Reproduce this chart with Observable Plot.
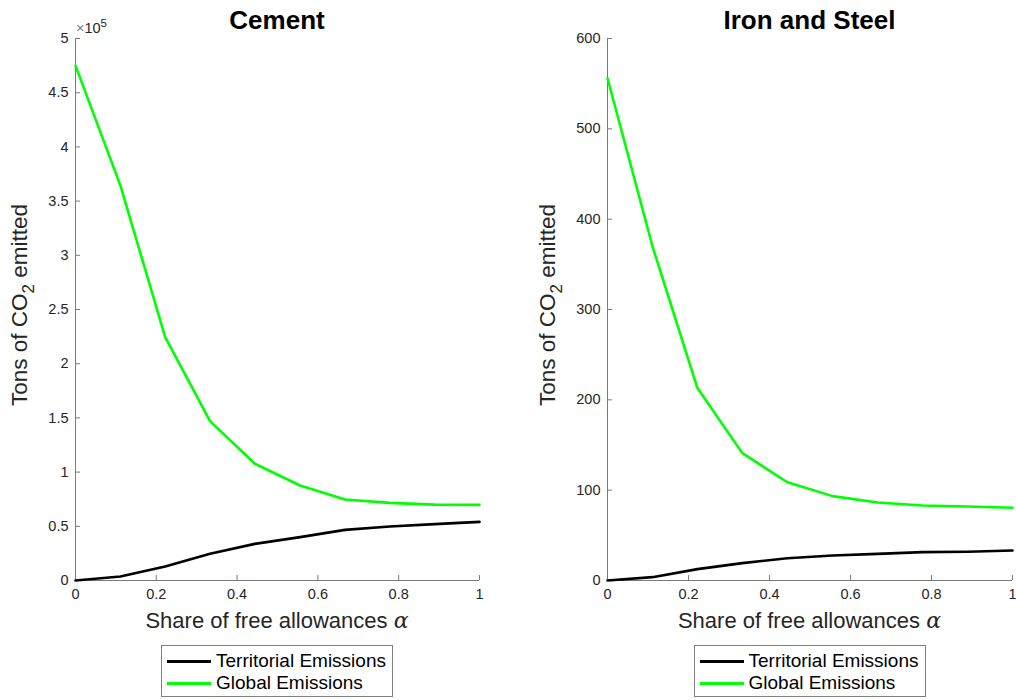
<!DOCTYPE html>
<html><head><meta charset="utf-8">
<script src="https://cdn.jsdelivr.net/npm/d3@7"></script>
<script src="https://cdn.jsdelivr.net/npm/@observablehq/plot@0.6"></script>
<style>
body{margin:0;background:#fff;font-family:"Liberation Sans",Arial,Helvetica,sans-serif;}
#wrap{position:relative;width:1016px;height:700px;overflow:hidden;}
.panel{position:absolute;top:0;}
.panel svg{overflow:visible;}
.legend{position:absolute;top:645px;height:52px;border:1px solid #7f7f7f;background:#fff;box-sizing:border-box;font-size:19px;color:#000;padding-top:4px;}
.legend .row{display:flex;align-items:center;height:22px;}
.legend .sw{width:44px;height:3px;margin-left:5px;margin-right:5px;flex:none;}
</style>
</head><body>
<div id="wrap"></div>
<script>
const alpha = [0, 0.111, 0.222, 0.333, 0.444, 0.556, 0.667, 0.778, 0.889, 1];
const cementTerritorial = [0, 3700, 13000, 24600, 33800, 40000, 46700, 49800, 52000, 54100];
const cementGlobal = [475000, 364500, 224500, 147000, 107700, 87600, 74700, 71600, 70000, 69800];
const steelTerritorial = [0, 3.7, 12.6, 19.2, 24.7, 27.7, 29.5, 31.4, 31.8, 33.2];
const steelGlobal = [556, 370, 213, 141, 108.8, 93.4, 86.3, 83, 82, 80.5];
const seriesNames = ["Territorial Emissions", "Global Emissions"];
const seriesColors = ["#000000", "#00ff00"];
const xTicks = [0, 0.2, 0.4, 0.6, 0.8, 1];
const cementYTicks = [0, 50000, 100000, 150000, 200000, 250000, 300000, 350000, 400000, 450000, 500000];
const steelYTicks = [0, 100, 200, 300, 400, 500, 600];
const titles = ["Cement", "Iron and Steel"];

const FONT = '"Liberation Sans",Arial,Helvetica,sans-serif';
const wrap = document.getElementById("wrap");

function makePanel({left, width, marginLeft, marginRight, title, yDomain, yTicks, yFormat, terr, glob, exponent, yLabelX}) {
  const rows = [];
  alpha.forEach((a, i) => rows.push({a, v: terr[i], s: seriesNames[0]}));
  alpha.forEach((a, i) => rows.push({a, v: glob[i], s: seriesNames[1]}));
  const svg = Plot.plot({
    width, height: 640,
    marginTop: 38, marginBottom: 60, marginLeft, marginRight,
    style: {fontFamily: FONT, fontSize: "14.5px", color: "#262626", background: "transparent", overflow: "visible"},
    x: {domain: [0, 1]},
    y: {domain: yDomain},
    color: {domain: seriesNames, range: seriesColors},
    marks: [
      Plot.axisX({ticks: xTicks, tickFormat: d => String(d), tickSize: -5, tickPadding: 13, fontSize: 14.5, label: null, stroke: "#7a7a7a", fill: "#262626"}),
      Plot.axisY({ticks: yTicks, tickFormat: yFormat, tickSize: -5, tickPadding: 12, fontSize: 14.5, label: null, stroke: "#7a7a7a", fill: "#262626"}),
      Plot.ruleY([yDomain[0]], {stroke: "#7a7a7a"}),
      Plot.ruleX([0], {stroke: "#7a7a7a"}),
      Plot.line(rows, {x: "a", y: "v", z: "s", stroke: "s", strokeWidth: 2.6})
    ]
  });
  const s = d3.select(svg);
  const cx = marginLeft + (width - marginLeft - marginRight) / 2;
  s.append("text").attr("x", cx).attr("y", 29).attr("text-anchor", "middle")
    .attr("font-weight", "bold").attr("font-size", 26).attr("fill", "#000").attr("font-family", FONT).text(title);
  const xl = s.append("text").attr("x", cx).attr("y", 628).attr("text-anchor", "middle")
    .attr("font-size", 22).attr("fill", "#262626").attr("font-family", FONT);
  xl.append("tspan").text("Share of free allowances ");
  xl.append("tspan").attr("font-style", "italic").attr("font-family", "DejaVu Serif, serif").attr("font-size", 22).text("α");
  const yl = s.append("text").attr("transform", `translate(${yLabelX},305) rotate(-90)`).attr("text-anchor", "middle")
    .attr("font-size", 22.5).attr("fill", "#262626").attr("font-family", FONT);
  yl.append("tspan").text("Tons of CO");
  yl.append("tspan").attr("font-size", 17).attr("dy", 7).text("2");
  yl.append("tspan").attr("dy", -7).text(" emitted");
  if (exponent) {
    const e = s.append("text").attr("x", marginLeft + 1).attr("y", 33).attr("text-anchor", "start")
      .attr("font-size", 14.5).attr("fill", "#262626").attr("font-family", FONT);
    e.append("tspan").attr("fill", "#7a7a7a").text("×");
    e.append("tspan").text("10");
    e.append("tspan").attr("dy", -6).attr("font-size", 11.5).text(exponent);
  }
  const div = document.createElement("div");
  div.className = "panel";
  div.style.left = left + "px";
  div.appendChild(svg);
  wrap.appendChild(div);

  // legend
  const lg = document.createElement("div");
  lg.className = "legend";
  const lw = 232;
  lg.style.left = (left + cx - lw / 2) + "px";
  lg.style.width = lw + "px";
  seriesNames.forEach((n, i) => {
    const r = document.createElement("div");
    r.className = "row";
    const sw = document.createElement("div");
    sw.className = "sw";
    sw.style.background = seriesColors[i];
    const t = document.createElement("span");
    t.textContent = n;
    r.appendChild(sw); r.appendChild(t);
    lg.appendChild(r);
  });
  wrap.appendChild(lg);
}

makePanel({left: 0, width: 508, marginLeft: 75, marginRight: 29, title: titles[0],
  yDomain: [0, 500000], yTicks: cementYTicks, yFormat: d => String(d / 100000),
  terr: cementTerritorial, glob: cementGlobal, exponent: "5", yLabelX: 27});
makePanel({left: 508, width: 508, marginLeft: 99, marginRight: 4, title: titles[1],
  yDomain: [0, 600], yTicks: steelYTicks, yFormat: d => String(d),
  terr: steelTerritorial, glob: steelGlobal, exponent: null, yLabelX: 47});
</script>
</body></html>
